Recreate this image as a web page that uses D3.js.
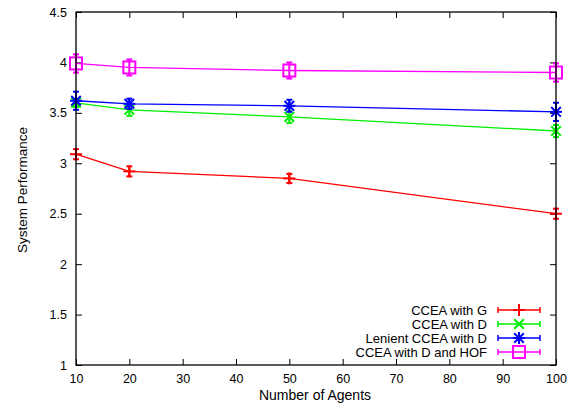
<!DOCTYPE html>
<html><head><meta charset="utf-8">
<script src="https://cdn.jsdelivr.net/npm/d3@7"></script>
<style>body{margin:0;background:#fff}svg{display:block}text{font-family:"Liberation Sans",Arial,sans-serif;font-size:12px;fill:#000}</style>
</head><body>
<script>
const agents = [10, 20, 50, 100];
const seriesNames = ["CCEA with G", "CCEA with D", "Lenient CCEA with D", "CCEA with D and HOF"];
const ccEAG = [3.09, 2.92, 2.85, 2.50];
const ccEAGErr = [0.05, 0.05, 0.045, 0.05];
const ccEAD = [3.60, 3.53, 3.46, 3.32];
const ccEADErr = [0.04, 0.06, 0.06, 0.06];
const lenient = [3.62, 3.59, 3.57, 3.51];
const lenientErr = [0.09, 0.05, 0.06, 0.09];
const hof = [3.99, 3.95, 3.92, 3.90];
const hofErr = [0.09, 0.08, 0.08, 0.09];
const xTicks = [10, 20, 30, 40, 50, 60, 70, 80, 90, 100];
const yTicks = [1, 1.5, 2, 2.5, 3, 3.5, 4, 4.5];

const W = 584, H = 405;
const m = {l: 76, r: 28, t: 12, b: 40};
const svg = d3.select("body").append("svg").attr("width", W).attr("height", H);
const x = d3.scaleLinear().domain([10, 100]).range([m.l, W - m.r]);
const y = d3.scaleLinear().domain([1, 4.5]).range([H - m.b, m.t]);

const series = [
  {name: seriesNames[0], v: ccEAG, e: ccEAGErr, c: "#ff0000", mk: "plus"},
  {name: seriesNames[1], v: ccEAD, e: ccEADErr, c: "#00ee00", mk: "cross"},
  {name: seriesNames[2], v: lenient, e: lenientErr, c: "#0000ff", mk: "star"},
  {name: seriesNames[3], v: hof, e: hofErr, c: "#ff00ff", mk: "square"}
];

// axes (ticks inward, mirrored)
const tl = 6;
svg.append("g").attr("transform", `translate(0,${H - m.b})`)
  .call(d3.axisBottom(x).tickValues(xTicks).tickSize(-tl).tickPadding(9).tickFormat(d3.format("d")))
  .call(g => g.select(".domain").remove());
svg.append("g").attr("transform", `translate(0,${m.t})`)
  .call(d3.axisTop(x).tickValues(xTicks).tickSize(-tl).tickFormat(""))
  .call(g => g.select(".domain").remove());
svg.append("g").attr("transform", `translate(${m.l},0)`)
  .call(d3.axisLeft(y).tickValues(yTicks).tickSize(-tl).tickPadding(9).tickFormat(d3.format("")))
  .call(g => g.select(".domain").remove());
svg.append("g").attr("transform", `translate(${W - m.r},0)`)
  .call(d3.axisRight(y).tickValues(yTicks).tickSize(-tl).tickFormat(""))
  .call(g => g.select(".domain").remove());
svg.selectAll(".tick line").attr("stroke", "#000");
svg.selectAll(".tick text").style("font-size", "12.5px").style("font-family", '"Liberation Sans",Arial,sans-serif');

function marker(g, cx, cy, type, c) {
  const s = 6;
  if (type === "plus" || type === "star") {
    g.append("line").attr("x1", cx - s).attr("x2", cx + s).attr("y1", cy).attr("y2", cy).attr("stroke", c).attr("stroke-width", 2);
    g.append("line").attr("x1", cx).attr("x2", cx).attr("y1", cy - s).attr("y2", cy + s).attr("stroke", c).attr("stroke-width", 2);
  }
  if (type === "cross" || type === "star") {
    const d = s * 0.8;
    g.append("line").attr("x1", cx - d).attr("x2", cx + d).attr("y1", cy - d).attr("y2", cy + d).attr("stroke", c).attr("stroke-width", 2);
    g.append("line").attr("x1", cx - d).attr("x2", cx + d).attr("y1", cy + d).attr("y2", cy - d).attr("stroke", c).attr("stroke-width", 2);
  }
  if (type === "square") {
    g.append("rect").attr("x", cx - 6).attr("y", cy - 6).attr("width", 12).attr("height", 12).attr("fill", "none").attr("stroke", c).attr("stroke-width", 2);
  }
}

const line = d3.line().x((d, i) => x(agents[i])).y(d => y(d));
series.forEach(s => {
  const g = svg.append("g");
  g.append("path").attr("d", line(s.v)).attr("fill", "none").attr("stroke", s.c).attr("stroke-width", 1.3);
  s.v.forEach((v, i) => {
    const cx = x(agents[i]);
    const y1 = y(v - s.e[i]), y2 = y(v + s.e[i]);
    g.append("line").attr("x1", cx).attr("x2", cx).attr("y1", y1).attr("y2", y2).attr("stroke", s.c).attr("stroke-width", 2);
    [y1, y2].forEach(yy => g.append("line").attr("x1", cx - 3).attr("x2", cx + 3).attr("y1", yy).attr("y2", yy).attr("stroke", s.c).attr("stroke-width", 2));
    marker(g, cx, y(v), s.mk, s.c);
  });
});

// frame
svg.append("rect").attr("x", m.l).attr("y", m.t).attr("width", W - m.r - m.l).attr("height", H - m.b - m.t)
  .attr("fill", "none").attr("stroke", "#000").attr("stroke-width", 1.3);

// legend
const lg = svg.append("g");
series.forEach((s, i) => {
  const ly = 310 + i * 14;
  lg.append("text").attr("x", 487).attr("y", ly).attr("dy", "0.35em").attr("text-anchor", "end").style("font-size", "13px").text(s.name);
  lg.append("line").attr("x1", 498).attr("x2", 540).attr("y1", ly).attr("y2", ly).attr("stroke", s.c).attr("stroke-width", 1.5);
  [498, 540].forEach(xx => lg.append("line").attr("x1", xx).attr("x2", xx).attr("y1", ly - 3).attr("y2", ly + 3).attr("stroke", s.c).attr("stroke-width", 1.5));
  marker(lg, 519, ly, s.mk, s.c);
});

// axis titles
svg.append("text").attr("x", 315).attr("y", 400).attr("text-anchor", "middle").style("font-size", "14px").text("Number of Agents");
svg.append("text").attr("transform", `translate(27,190) rotate(-90)`).attr("text-anchor", "middle").style("font-size", "13.5px").text("System Performance");
</script>
</body></html>
